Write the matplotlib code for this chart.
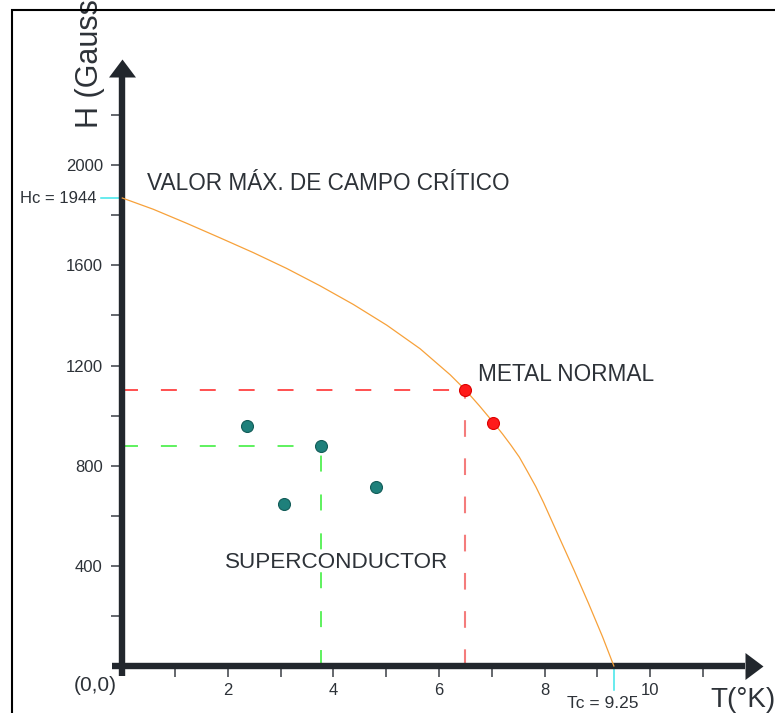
import matplotlib
matplotlib.use('Agg')
import matplotlib.pyplot as plt
from matplotlib.patches import Rectangle

plt.rcParams['font.family'] = ['Liberation Sans', 'DejaVu Sans']
plt.rcParams['lines.scale_dashes'] = False

# ── data ──────────────────────────────────────────────────────────────────────
# critical field curve H_c(T)
CURVE_T = [0.00, 0.587, 1.22, 1.85, 2.48, 3.11, 3.74, 4.375, 5.01, 5.64,
           6.21, 6.50, 6.76, 7.03, 7.20, 7.36, 7.52, 7.67, 7.83, 7.98,
           8.27, 8.555, 8.83, 9.095, 9.31]
CURVE_H = [1869, 1824, 1768, 1710, 1651, 1588, 1519, 1444, 1361, 1267,
           1163, 1102, 1040, 972, 927, 882, 834, 778, 717, 652,
           516, 383, 250, 117, 0]

# points on the curve (normal metal) and inside (superconductor)
NORMAL_T = [6.50, 7.03]
NORMAL_H = [1102, 972]
SUPER_T = [2.37, 3.76, 4.80, 3.07]
SUPER_H = [960, 879, 714, 648]

# where the curve meets the axes (as drawn) and the labels written there
HC_PLOT, TC_PLOT = 1869, 9.31
HC_LABEL, TC_LABEL = 'Hc = 1944', 'Tc = 9.25'

X_TICKS = list(range(1, 12))
X_LABELS = [str(t) if t % 2 == 0 else '' for t in X_TICKS]
Y_TICKS = list(range(200, 2201, 200))
Y_LABELS = [str(v) if v % 400 == 0 else '' for v in Y_TICKS]

# ── aesthetics ────────────────────────────────────────────────────────────────
AXIS_COLOR = '#22272d'
TEXT_COLOR = '#2d3238'
CYAN = '#3ee6ea'
PX_X, PX_Y = 52.8, 0.2504      # pixels per data unit
X0, Y0 = 122.3, 47.0           # origin in pixels (from left / bottom)

fig = plt.figure(figsize=(7.75, 7.13), dpi=100)
ax = fig.add_axes([0, 0, 1, 1])
ax.set_xlim(-X0 / PX_X, (775 - X0) / PX_X)
ax.set_ylim(-Y0 / PX_Y, (713 - Y0) / PX_Y)
ax.patch.set_alpha(0)

# axes as thick arrows through the origin
for side in ['top', 'right']:
    ax.spines[side].set_visible(False)
for side in ['left', 'bottom']:
    ax.spines[side].set_position(('data', 0))
    ax.spines[side].set_linewidth(4.6)
    ax.spines[side].set_color(AXIS_COLOR)
    ax.spines[side].set_capstyle('butt')
ax.spines['left'].set_bounds(-40, 2352)
ax.spines['bottom'].set_bounds(-0.2, 11.8)

ax.plot(0, 2352, marker=[(-13.5, 0), (13.5, 0), (0, 18)], ms=25.9,
        color=AXIS_COLOR, mew=0, clip_on=False, zorder=3)
ax.plot(11.8, 0, marker=[(0, -13.5), (0, 13.5), (18, 0)], ms=25.9,
        color=AXIS_COLOR, mew=0, clip_on=False, zorder=3)

ax.set_xticks(X_TICKS)
ax.set_xticklabels(X_LABELS)
ax.set_yticks(Y_TICKS)
ax.set_yticklabels(Y_LABELS)
ax.tick_params(direction='out', length=8, width=1.1, color='#3a3f45',
               labelsize=12, labelcolor=TEXT_COLOR)
ax.tick_params(axis='x', pad=4.5)
ax.tick_params(axis='y', pad=6)

# guide lines
ax.plot([0, NORMAL_T[0]], [NORMAL_H[0]] * 2, color='#ff1f1f', lw=1.1,
        dashes=(11.5, 16.5), zorder=2)
ax.plot([NORMAL_T[0]] * 2, [0, NORMAL_H[0]], color='#f47c7c', lw=1.5,
        dashes=(12, 15.5), zorder=2)
ax.plot([0, SUPER_T[1]], [SUPER_H[1]] * 2, color='#33ee33', lw=1.1,
        dashes=(11.5, 16.5), zorder=2)
ax.plot([SUPER_T[1]] * 2, [0, SUPER_H[1]], color='#33ee33', lw=1.1,
        dashes=(11.5, 16.5), zorder=2)

# Hc and Tc markers
ax.plot([-0.4, 0], [HC_PLOT] * 2, color=CYAN, lw=1.1, zorder=2)
ax.plot([TC_PLOT] * 2, [0, -96], color=CYAN, lw=1.1, zorder=2)

# critical field curve and points
ax.plot(CURVE_T, CURVE_H, color='#f7a13a', lw=0.9, zorder=4)
ax.plot(NORMAL_T, NORMAL_H, 'o', ms=8.6, color='#ff1a1a', mec='#dd0000',
        mew=0.8, zorder=5)
ax.plot(SUPER_T, SUPER_H, 'o', ms=8.6, color='#1e807b', mec='#125c58',
        mew=0.8, zorder=5)

# text
ax.text(0.47, 1925, 'VALOR MÁX. DE CAMPO CRÍTICO', fontsize=16.3,
        color=TEXT_COLOR, va='center', ha='left')
ax.text(6.74, 1166, 'METAL NORMAL', fontsize=16.3, color=TEXT_COLOR,
        va='center', ha='left')
ax.text(1.95, 415, 'SUPERCONDUCTOR', fontsize=16.2, color=TEXT_COLOR,
        va='center', ha='left')
ax.text(-0.48, HC_PLOT, HC_LABEL, fontsize=12, color=TEXT_COLOR,
        va='center', ha='right')
ax.text(9.1, -150, TC_LABEL, fontsize=12.5, color=TEXT_COLOR,
        va='center', ha='center')
ax.text(-0.1, -76, '(0,0)', fontsize=15, color=TEXT_COLOR,
        va='center', ha='right')
ax.text(11.13, -136, 'T(°K)', fontsize=20, color=TEXT_COLOR,
        va='center', ha='left')
ax.text(-0.61, 2149, 'H (Gauss)', fontsize=22, color=TEXT_COLOR,
        rotation=90, va='bottom', ha='center')

# outer frame, cut by the right and bottom edges
fig.add_artist(Rectangle((12 / 775, -0.2), 2, 703 / 713 + 0.2,
                         transform=fig.transFigure, fill=False,
                         lw=1.5, ec='black'))

fig.savefig('out.png', dpi=100)
